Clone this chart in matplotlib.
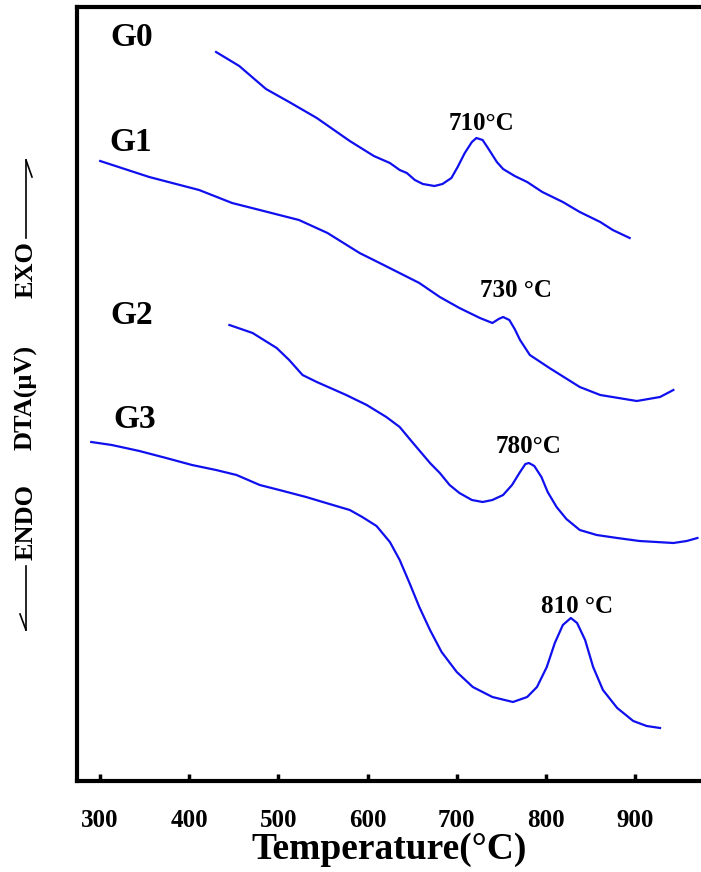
import matplotlib
matplotlib.use('Agg')
import matplotlib.pyplot as plt
from matplotlib.lines import Line2D

# DTA curves (temperature in degC, signal in arbitrary uV units)
t_g0 = [430, 456, 486, 512, 543, 580, 607, 625, 636, 644, 653, 662, 675, 684, 694,
        701, 709, 717, 722, 729, 735, 745, 752, 765, 779, 796, 819, 838, 861, 875, 894]
s_g0 = [72.9, 71.5, 69.2, 67.9, 66.3, 64.0, 62.5, 61.8, 61.1, 60.8, 60.1, 59.7, 59.5,
        59.7, 60.3, 61.4, 62.8, 63.9, 64.3, 64.1, 63.3, 61.9, 61.2, 60.5, 59.9, 58.9,
        57.9, 56.9, 55.9, 55.1, 54.3]

t_g1 = [300, 355, 411, 448, 479, 523, 555, 591, 618, 658, 681, 703, 726, 740, 747,
        752, 759, 765, 771, 782, 804, 838, 861, 902, 928, 943]
s_g1 = [62.0, 60.4, 59.1, 57.8, 57.1, 56.1, 54.8, 52.8, 51.6, 49.8, 48.4, 47.3, 46.3,
        45.8, 46.2, 46.4, 46.1, 45.2, 44.1, 42.6, 41.3, 39.4, 38.6, 38.0, 38.4, 39.1]

t_g2 = [445, 471, 498, 512, 527, 543, 576, 599, 621, 636, 650, 670, 681, 692, 703,
        717, 729, 740, 752, 762, 771, 777, 781, 787, 795, 802, 812, 823, 838, 857,
        880, 905, 943, 958, 970]
s_g2 = [45.6, 44.8, 43.3, 42.1, 40.6, 39.9, 38.6, 37.6, 36.4, 35.4, 33.9, 31.8, 30.8,
        29.6, 28.8, 28.1, 27.9, 28.1, 28.6, 29.6, 30.9, 31.7, 31.8, 31.5, 30.4, 28.9,
        27.4, 26.2, 25.1, 24.6, 24.3, 24.0, 23.8, 24.0, 24.3]

t_g3 = [290, 313, 344, 374, 403, 430, 453, 479, 501, 531, 561, 580, 594, 610, 625,
        636, 647, 658, 670, 683, 700, 718, 740, 763, 779, 790, 801, 810, 819, 828,
        835, 844, 853, 864, 880, 898, 913, 928]
s_g3 = [33.9, 33.6, 33.0, 32.3, 31.6, 31.1, 30.6, 29.6, 29.1, 28.4, 27.6, 27.1, 26.4,
        25.5, 23.9, 22.1, 19.8, 17.4, 15.1, 12.9, 10.9, 9.4, 8.4, 7.9, 8.4, 9.4, 11.4,
        13.8, 15.6, 16.3, 15.8, 14.1, 11.4, 9.1, 7.3, 6.0, 5.5, 5.3]

samples = ['G0', 'G1', 'G2', 'G3']
sample_label_pos = [(335, 74.4), (334, 63.9), (335, 46.6), (339, 36.2)]
peak_labels = ['710°C', '730 °C', '780°C', '810 °C']
peak_label_pos = [(728, 65.8), (767, 49.1), (780, 33.5), (835, 17.5)]

xticks = [300, 400, 500, 600, 700, 800, 900]

serif = ['Liberation Serif', 'DejaVu Serif']

fig = plt.figure(figsize=(7.01, 8.72), dpi=100)
ax = fig.add_axes([77 / 701, 1 - 781 / 872, 1 - 77 / 701, (781 - 7) / 872])

for t, s in [(t_g0, s_g0), (t_g1, s_g1), (t_g2, s_g2), (t_g3, s_g3)]:
    ax.plot(t, s, color='#1010ee', lw=1.6, solid_joinstyle='round')

for name, (x, y) in zip(samples, sample_label_pos):
    ax.text(x, y, name, family=serif, weight='bold', fontsize=24, ha='center', va='center')

for lab, (x, y) in zip(peak_labels, peak_label_pos):
    ax.text(x, y, lab, family=serif, weight='bold', fontsize=18, ha='center', va='center')

ax.set_xlim(274, 974)
ax.set_ylim(0, 77.4)
ax.set_xticks(xticks)
ax.set_xticklabels([str(v) for v in xticks], family=serif, weight='bold', fontsize=18)
ax.set_yticks([])
ax.tick_params(axis='x', direction='in', length=5, width=2.5, pad=20)
for side in ['left', 'bottom', 'top']:
    ax.spines[side].set_linewidth(3)
ax.spines['right'].set_visible(False)

ax.set_xlabel('Temperature(°C)', family=serif, weight='bold', fontsize=27, labelpad=0)

# y label: ENDO <- DTA(uV) -> EXO, drawn with hand arrows like the original
def fx(px):
    return px / 701

def fy(py):
    return 1 - py / 872

for word, py in [('EXO', 270), ('DTA(μV)', 397), ('ENDO', 522)]:
    fig.text(fx(26), fy(py), word, family=serif, weight='bold', fontsize=19,
             rotation=90, ha='center', va='center')

arrow_kw = dict(color='black', lw=1.2, transform=fig.transFigure)
fig.add_artist(Line2D([fx(26), fx(26)], [fy(238), fy(160)], **arrow_kw))
fig.add_artist(Line2D([fx(26), fx(32)], [fy(160), fy(177)], **arrow_kw))
fig.add_artist(Line2D([fx(26), fx(26)], [fy(566), fy(630)], **arrow_kw))
fig.add_artist(Line2D([fx(26), fx(20)], [fy(630), fy(614)], **arrow_kw))

fig.savefig('out.png', dpi=100)
